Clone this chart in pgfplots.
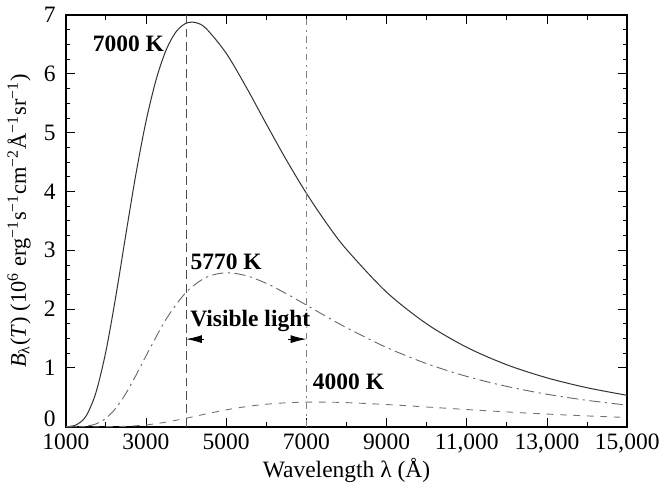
\documentclass[border=0pt]{standalone}
\usepackage{fontspec}
\setmainfont{Liberation Serif}
\usepackage{pgfplots}
\pgfplotsset{compat=1.18}
\usetikzlibrary{arrows.meta}
\begin{document}
\begin{tikzpicture}
\begin{axis}[
  scale only axis, width=251pt, height=184pt,
  xmin=1000, xmax=15000, ymin=0, ymax=7,
  scaled x ticks=false,
  xtick={1000,3000,5000,7000,9000,11000,13000,15000},
  xticklabels={1000,3000,5000,7000,9000,{11,000},{13,000},{15,000}},
  minor x tick num=1,
  ytick={1,2,3,4,5,6,7},
  extra y ticks={0},
  extra y tick style={yticklabel style={yshift=3.5pt}},
  minor y tick num=3,
  tick align=inside,
  major tick length=4pt, minor tick length=2pt,
  tick style={black, thin},
  axis line style={black, line width=0.8pt},
  /pgf/number format/assume math mode=true,
  ticklabel style={font=\fontsize{10.5}{12}\selectfont},
  xticklabel style={yshift=0.5pt},
  yticklabel style={xshift=-1pt},
  xlabel style={font=\fontsize{10.5}{12}\selectfont, yshift=4.5pt},
  ylabel style={font=\fontsize{10}{12}\selectfont, yshift=-1pt},
  xlabel={Wavelength λ (Å)},
  ylabel={\textit{B}\textsubscript{λ}(\textit{T}) (10\textsuperscript{6} erg\textsuperscript{−1}s\textsuperscript{−1}cm\textsuperscript{−2}Å\textsuperscript{−1}sr\textsuperscript{−1})},
  clip=false,
]
% 7000 K
\addplot[black!80, line width=0.45pt, smooth] coordinates {
(1000,0.0014) (1250,0.0282) (1500,0.1755) (1750,0.5754) (2000,1.281)
(2250,2.227) (2500,3.279) (2750,4.301) (3000,5.192) (3250,5.897)
(3500,6.403) (3750,6.717) (4000,6.863) (4250,6.872) (4500,6.772)
(5000,6.352) (5500,5.775) (6000,5.149) (6500,4.537) (7000,3.971)
(7500,3.463) (8000,3.015) (9000,2.288) (10000,1.749) (11000,1.350)
(12000,1.053) (13000,0.831) (14000,0.663) (15000,0.534)};
% 5770 K
\addplot[black!60, line width=0.4pt, smooth, dash pattern=on 5pt off 2pt on 1pt off 2pt] coordinates {
(1000,0.0000) (1250,0.0008) (1500,0.0095) (1750,0.0470) (2000,0.1432)
(2250,0.3175) (2500,0.5681) (2750,0.8736) (3000,1.2038) (3500,1.8272)
(4000,2.286) (4500,2.541) (5000,2.619) (5500,2.569) (6000,2.438)
(6500,2.263) (7000,2.069) (7500,1.873) (8000,1.6845) (9000,1.3474)
(10000,1.0725) (11000,0.855) (12000,0.685) (13000,0.552) (14000,0.4486)
(15000,0.367)};
% 4000 K
\addplot[black!55, line width=0.4pt, smooth, dash pattern=on 3pt off 3pt] coordinates {
(1000,0.0000) (1500,0.0000) (2000,0.0006) (2500,0.0069) (3000,0.0304)
(3500,0.0780) (4000,0.1447) (4500,0.2181) (5000,0.2865) (5500,0.3423)
(6000,0.3826) (6500,0.4072) (7000,0.4182) (7500,0.4182) (8000,0.4099)
(9000,0.3776) (10000,0.3356) (11000,0.2922) (12000,0.2514) (13000,0.2151)
(14000,0.1837) (15000,0.1568)};
% visible band limits
\draw[black!70, line width=0.4pt, dash pattern=on 4pt off 2pt] (axis cs:4000,0) -- (axis cs:4000,7);
\draw[black!50, line width=0.4pt, dash pattern=on 3pt off 2pt on 0.8pt off 2pt] (axis cs:7000,0) -- (axis cs:7000,7);
% arrows
\draw[black, -{Latex[length=7pt,width=3.5pt]}] (axis cs:4450,1.49) -- (axis cs:4000,1.49);
\draw[black, -{Latex[length=7pt,width=3.5pt]}] (axis cs:6550,1.49) -- (axis cs:7000,1.49);
% labels
\node[font=\fontsize{10.5}{12}\selectfont\bfseries] at (axis cs:2560,6.52) {7000 K};
\node[font=\fontsize{10.5}{12}\selectfont\bfseries] at (axis cs:5000,2.80) {5770 K};
\node[font=\fontsize{10.5}{12}\selectfont\bfseries] at (axis cs:5600,1.80) {Visible light};
\node[font=\fontsize{10.5}{12}\selectfont\bfseries] at (axis cs:8050,0.76) {4000 K};
\end{axis}
\path (current axis.south west) ++(0pt,-28pt) coordinate (bb);
\useasboundingbox (current bounding box.north east) rectangle (bb -| current bounding box.west);
\end{tikzpicture}
\end{document}
